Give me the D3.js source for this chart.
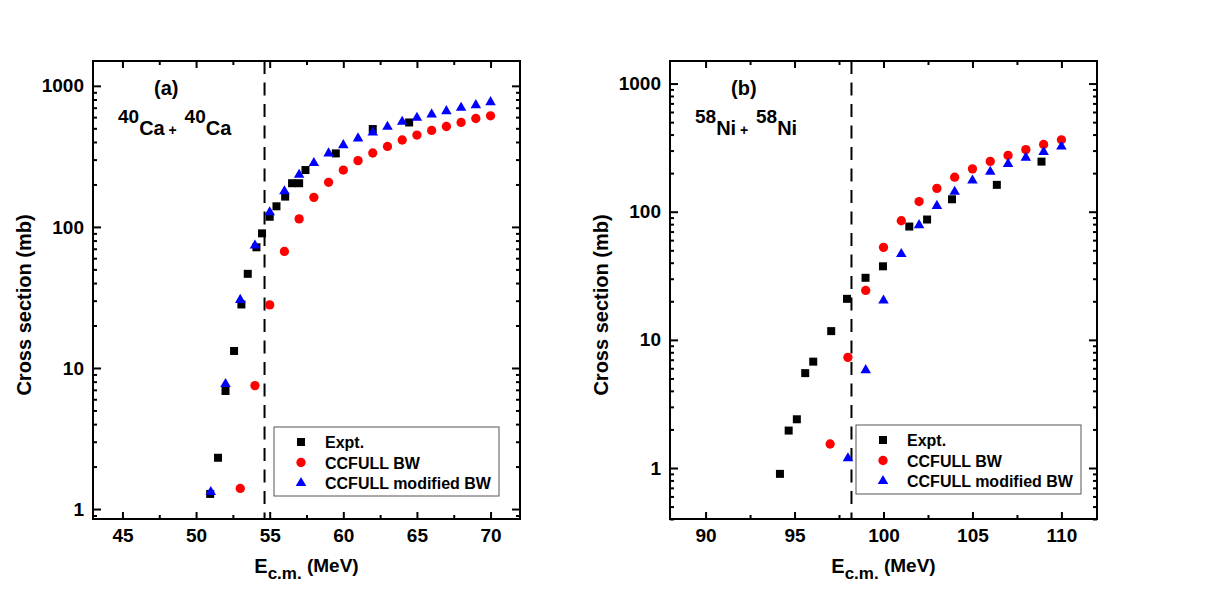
<!DOCTYPE html>
<html>
<head>
<meta charset="utf-8">
<script src="https://cdn.jsdelivr.net/npm/d3@7"></script>
<style>
body { margin: 0; background: #fff; }
text { font-family: "Liberation Sans", Arial, Helvetica, sans-serif; font-weight: bold; }
</style>
</head>
<body>
<div id="chart"></div>
<script>
// ---- data ----
// (a) 40Ca + 40Ca
const CA_EXPT_E  = [50.96, 51.49, 52.0, 52.58, 53.08, 53.51, 54.1, 54.48, 55.0, 55.46, 56.05, 56.52, 57.0, 57.43, 59.49, 62.0, 64.47];
const CA_EXPT_XS = [1.28, 2.31, 6.87, 13.2, 28.2, 46.5, 71.7, 90, 118, 140, 164, 204, 204, 253, 332, 494, 550];
const CA_BW_E    = [53, 54, 55, 56, 57, 58, 59, 60, 61, 62, 63, 64, 65, 66, 67, 68, 69, 70];
const CA_BW_XS   = [1.4, 7.5, 28, 67, 114, 162, 207, 253, 295, 334, 372, 413, 448, 483, 515, 550, 587, 613];
const CA_MBW_E   = [51, 52, 53, 54, 55, 56, 57, 58, 59, 60, 61, 62, 63, 64, 65, 66, 67, 68, 69, 70];
const CA_MBW_XS  = [1.32, 7.7, 30.4, 73.8, 127, 179, 234, 284, 332, 380, 424, 468, 513, 556, 594, 627, 662, 699, 730, 767];
const CA_VB = 54.65;

// (b) 58Ni + 58Ni
const NI_EXPT_E  = [94.18, 94.67, 95.13, 95.6, 96.05, 97.06, 97.95, 98.99, 99.97, 101.45, 102.45, 103.85, 106.37, 108.88];
const NI_EXPT_XS = [0.9, 1.96, 2.4, 5.5, 6.76, 11.7, 20.9, 30.5, 37.5, 76.6, 86.9, 125, 162, 246];
const NI_BW_E    = [97, 98, 99, 100, 101, 102, 103, 104, 105, 106, 107, 108, 109, 110];
const NI_BW_XS   = [1.54, 7.3, 24.3, 52.7, 85, 120, 152, 186, 216, 247, 275, 305, 335, 364];
const NI_MBW_E   = [98, 99, 100, 101, 102, 103, 104, 105, 106, 107, 108, 109, 110];
const NI_MBW_XS  = [1.19, 5.8, 20.3, 46.8, 78.5, 111, 143, 175, 205, 236, 264, 292, 323];
const NI_VB = 98.2;

// ticks
const X_TICKS_A = [45, 50, 55, 60, 65, 70];
const X_TICKS_B = [90, 95, 100, 105, 110];
const Y_TICKS = [1, 10, 100, 1000];

const SERIES_NAMES = ["Expt.", "CCFULL BW", "CCFULL modified BW"];
const SERIES_COLORS = ["#000000", "#ff0000", "#0000ff"];
const SERIES_SYMBOLS = [d3.symbolSquare, d3.symbolCircle, d3.symbolTriangle];
const SERIES_SIZES = [64, 68, 48];

const TOP = 61, BOTTOM = 519;

const svg = d3.select("#chart")
	.append("svg")
		.attr("width", 1221)
		.attr("height", 611);

function drawPanel(p) {

	const X_SCALE = d3.scaleLinear().domain(p.xDomain).range([p.left, p.right]);
	const Y_SCALE = d3.scaleLog().domain(p.yDomain).range([BOTTOM, TOP]);

	// minor ticks
	const xMinor = p.xTicks.slice(0, -1).map(d => d + 2.5);
	const yMinor = [];
	[0.1, 1, 10, 100, 1000].forEach(dec => {
		for (let m = 2; m <= 9; m++) {
			const v = +(m * dec).toPrecision(3);
			if (v >= p.yDomain[0] && v <= p.yDomain[1]) yMinor.push(v);
		}
	});

	const g = svg.append("g");

	function addAxis(gen, transform, vals, size, labels, pad) {
		const a = g.append("g")
			.attr("transform", transform)
			.call(gen.tickValues(vals).tickSize(size).tickSizeOuter(0)
				.tickPadding(pad || 0)
				.tickFormat(labels ? d3.format("d") : ""));
		a.attr("font-size", 19)
			.attr("font-family", "Liberation Sans, Arial, sans-serif")
			.attr("font-weight", "bold");
		a.select(".domain").remove();
		a.selectAll("line").attr("stroke-width", 2);
		return a;
	}

	// bottom / top
	addAxis(d3.axisBottom(X_SCALE), "translate(0," + BOTTOM + ")", p.xTicks, -7, true, 10);
	addAxis(d3.axisBottom(X_SCALE), "translate(0," + BOTTOM + ")", xMinor, -4, false);
	addAxis(d3.axisTop(X_SCALE), "translate(0," + TOP + ")", p.xTicks, -7, false);
	addAxis(d3.axisTop(X_SCALE), "translate(0," + TOP + ")", xMinor, -4, false);
	// left / right
	addAxis(d3.axisLeft(Y_SCALE), "translate(" + p.left + ",0)", Y_TICKS, -8, true, 9);
	addAxis(d3.axisLeft(Y_SCALE), "translate(" + p.left + ",0)", yMinor, -4, false);
	addAxis(d3.axisRight(Y_SCALE), "translate(" + p.right + ",0)", Y_TICKS, -8, false);
	addAxis(d3.axisRight(Y_SCALE), "translate(" + p.right + ",0)", yMinor, -4, false);

	// frame
	g.append("rect")
		.attr("x", p.left)
		.attr("y", TOP)
		.attr("width", p.right - p.left)
		.attr("height", BOTTOM - TOP)
		.attr("fill", "none")
		.attr("stroke", "#000")
		.attr("stroke-width", 2);

	// barrier line
	g.append("line")
		.attr("x1", X_SCALE(p.vb)).attr("x2", X_SCALE(p.vb))
		.attr("y1", TOP).attr("y2", BOTTOM)
		.attr("stroke", "#000")
		.attr("stroke-width", 2)
		.attr("stroke-dasharray", "13,8.5");

	// points
	p.series.forEach((s, i) => {
		const pts = s.e.map((e, k) => ({e: e, xs: s.xs[k]}));
		g.selectAll(".pt" + i)
			.data(pts)
			.enter()
			.append("path")
				.attr("d", d3.symbol().type(SERIES_SYMBOLS[i]).size(SERIES_SIZES[i]))
				.attr("transform", d => "translate(" + X_SCALE(d.e) + "," + Y_SCALE(d.xs) + ")")
				.attr("fill", SERIES_COLORS[i]);
	});

	// legend
	const lg = g.append("g").attr("transform", "translate(" + p.legend[0] + "," + p.legend[1] + ")");
	lg.append("rect")
		.attr("width", 225)
		.attr("height", 69)
		.attr("fill", "#fff")
		.attr("stroke", "#555")
		.attr("stroke-width", 1);
	SERIES_NAMES.forEach((name, i) => {
		const yy = 15 + i * 20.5;
		lg.append("path")
			.attr("d", d3.symbol().type(SERIES_SYMBOLS[i]).size(SERIES_SIZES[i]))
			.attr("transform", "translate(27," + yy + ")")
			.attr("fill", SERIES_COLORS[i]);
		lg.append("text")
			.attr("x", 51)
			.attr("y", yy + 6)
			.attr("font-size", 16)
			.text(name);
	});

	// panel label
	g.append("text")
		.attr("x", p.left + 61)
		.attr("y", 95)
		.attr("font-size", 20)
		.text(p.tag);

	// reaction
	const r = g.append("text")
		.attr("x", p.left + 25)
		.attr("y", 123)
		.attr("font-size", 19);
	r.append("tspan").text(p.mass);
	r.append("tspan").attr("dy", 12).attr("font-size", 20).text(p.el);
	r.append("tspan").attr("font-size", 14).text("\u00a0+\u00a0\u00a0");
	r.append("tspan").attr("dy", -12).text(p.mass);
	r.append("tspan").attr("dy", 12).attr("font-size", 20).text(p.el);

	// axis titles
	g.append("text")
		.attr("transform", "translate(" + (p.left - 62) + "," + ((TOP + BOTTOM) / 2 + 15) + ") rotate(-90)")
		.attr("text-anchor", "middle")
		.attr("font-size", 20)
		.text("Cross section (mb)");

	const xt = g.append("text")
		.attr("x", (p.left + p.right) / 2)
		.attr("y", 573)
		.attr("text-anchor", "middle")
		.attr("font-size", 20);
	xt.append("tspan").text("E");
	xt.append("tspan").attr("font-size", 17).attr("dy", 6).text("c.m.");
	xt.append("tspan").attr("font-size", 19).attr("dy", -7).text("\u00a0(MeV)");
}

drawPanel({
	left: 93, right: 520,
	xDomain: [43, 72], yDomain: [0.85, 1500],
	xTicks: X_TICKS_A, vb: CA_VB,
	legend: [274, 427],
	tag: "(a)", mass: "40", el: "Ca",
	series: [
		{e: CA_EXPT_E, xs: CA_EXPT_XS},
		{e: CA_BW_E, xs: CA_BW_XS},
		{e: CA_MBW_E, xs: CA_MBW_XS}
	]
});

drawPanel({
	left: 670, right: 1097,
	xDomain: [88, 112], yDomain: [0.4, 1500],
	xTicks: X_TICKS_B, vb: NI_VB,
	legend: [856, 425],
	tag: "(b)", mass: "58", el: "Ni",
	series: [
		{e: NI_EXPT_E, xs: NI_EXPT_XS},
		{e: NI_BW_E, xs: NI_BW_XS},
		{e: NI_MBW_E, xs: NI_MBW_XS}
	]
});
</script>
</body>
</html>
